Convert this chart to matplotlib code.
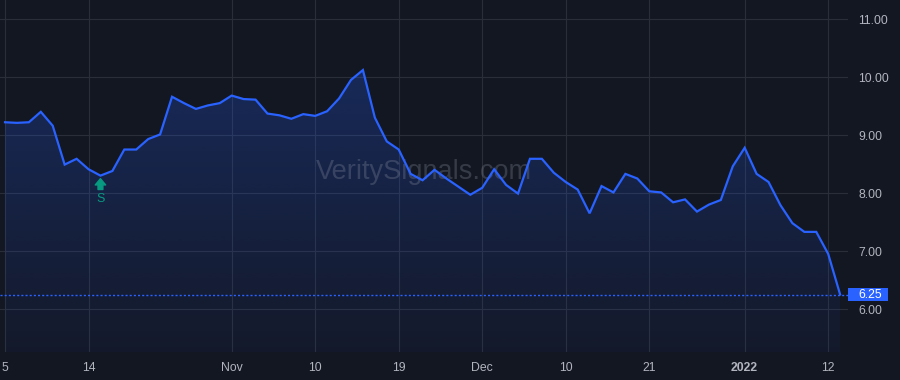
import numpy as np
import matplotlib
matplotlib.use("Agg")
import matplotlib.pyplot as plt
from matplotlib.patches import PathPatch, Rectangle
from matplotlib.transforms import blended_transform_factory

# ---------------- data ----------------
values = [9.22, 9.21, 9.22, 9.40, 9.16, 8.49, 8.59, 8.41, 8.30, 8.38,
          8.75, 8.75, 8.93, 9.01, 9.66, 9.55, 9.45, 9.51, 9.55, 9.68,
          9.62, 9.61, 9.37, 9.34, 9.28, 9.36, 9.33, 9.41, 9.63, 9.95,
          10.12, 9.30, 8.89, 8.75, 8.33, 8.22, 8.40, 8.25, 8.11, 7.97,
          8.09, 8.41, 8.14, 7.99, 8.59, 8.59, 8.35, 8.19, 8.06, 7.65,
          8.12, 8.01, 8.33, 8.25, 8.03, 8.01, 7.84, 7.89, 7.68, 7.80,
          7.88, 8.46, 8.78, 8.33, 8.19, 7.79, 7.48, 7.33, 7.33, 6.95,
          6.25]
x_tick_pos = [0, 7, 19, 26, 33, 40, 47, 54, 62, 69]
x_tick_labels = ["5", "14", "Nov", "10", "19", "Dec", "10", "21", "2022", "12"]
y_ticks = [6, 7, 8, 9, 10, 11]
y_tick_labels = ["6.00", "7.00", "8.00", "9.00", "10.00", "11.00"]
signal_index = 8
signal_label = "S"
last_label = "6.25"
watermark = "VeritySignals.com"

# ---------------- style ----------------
BG = "#131722"
GRID = "#2a2e39"
LINE = "#2962ff"
TXT = "#b2b5be"
GREEN = "#089981"
FONT = "Liberation Sans"

plt.rcParams["font.family"] = [FONT, "DejaVu Sans"]

fig = plt.figure(figsize=(9, 3.8), dpi=100, facecolor=BG)
ax = fig.add_axes([0, 28 / 380, 848 / 900, 352 / 380])
ax.set_facecolor(BG)

x = np.arange(len(values))
ymin, ymax = 5.259, 11.328
xmin, xmax = -0.42, 70.66
ax.set_xlim(xmin, xmax)
ax.set_ylim(ymin, ymax)

# gradient fill under the line
grad = np.zeros((256, 1, 4))
rgb = matplotlib.colors.to_rgb(LINE)
grad[:, 0, 0] = rgb[0]
grad[:, 0, 1] = rgb[1]
grad[:, 0, 2] = rgb[2]
grad[:, 0, 3] = np.linspace(0.04, 0.30, 256)
im = ax.imshow(grad, extent=[xmin, xmax, ymin, ymax], aspect="auto",
               origin="lower", zorder=1, interpolation="bilinear")
poly = ax.fill_between(x, values, ymin, facecolor="none", edgecolor="none")
patch = PathPatch(poly.get_paths()[0], transform=ax.transData,
                  facecolor="none", edgecolor="none")
ax.add_patch(patch)
im.set_clip_path(patch)

ax.plot(x, values, color=LINE, lw=1.6, zorder=3, solid_joinstyle="miter")

# grid
ax.set_xticks(x_tick_pos)
ax.set_xticklabels(x_tick_labels)
ax.set_yticks(y_ticks)
ax.set_yticklabels(y_tick_labels)
ax.grid(True, color=GRID, lw=0.8, zorder=0)
ax.set_axisbelow(True)
for s in ax.spines.values():
    s.set_visible(False)
ax.yaxis.tick_right()
ax.tick_params(axis="y", length=0, pad=7.3, labelcolor=TXT, labelsize=8.8)
ax.tick_params(axis="x", length=0, pad=7.0, labelcolor=TXT, labelsize=8.8)
for lab in ax.get_xticklabels():
    if lab.get_text() == "2022":
        lab.set_fontweight("bold")

# last price dotted line and label
last = values[-1]
ax.axhline(last, color=LINE, lw=1.0, linestyle=(0, (1.5, 1.5)), zorder=2)
bt = blended_transform_factory(fig.transFigure, ax.transData)
ax.add_patch(Rectangle((848 / 900, last - 0.118), 40 / 900, 0.236,
                       transform=bt, facecolor=LINE, edgecolor="none",
                       clip_on=False, zorder=5))
ax.text(858 / 900, last, last_label, transform=bt, ha="left", va="center",
        color="white", fontsize=8.8, zorder=6, clip_on=False)

# signal marker
ax.annotate("", xy=(signal_index, values[signal_index]), xycoords="data",
            xytext=(0, -10), textcoords="offset points",
            arrowprops=dict(arrowstyle="simple,head_length=0.45,head_width=0.75,tail_width=0.35",
                            color=GREEN, shrinkA=0, shrinkB=2.2), zorder=4)
ax.annotate(signal_label, xy=(signal_index, values[signal_index]), xycoords="data",
            xytext=(0, -16.5), textcoords="offset points", ha="center", va="center",
            color=GREEN, fontsize=9, family=[FONT, "DejaVu Sans"], zorder=4)

# watermark
ax.text(0.5, 0.51, watermark, transform=ax.transAxes, ha="center", va="center",
        fontsize=19.5, color="#8a8fa0", alpha=0.3, zorder=2)

fig.savefig("out.png", dpi=100, facecolor=BG)
